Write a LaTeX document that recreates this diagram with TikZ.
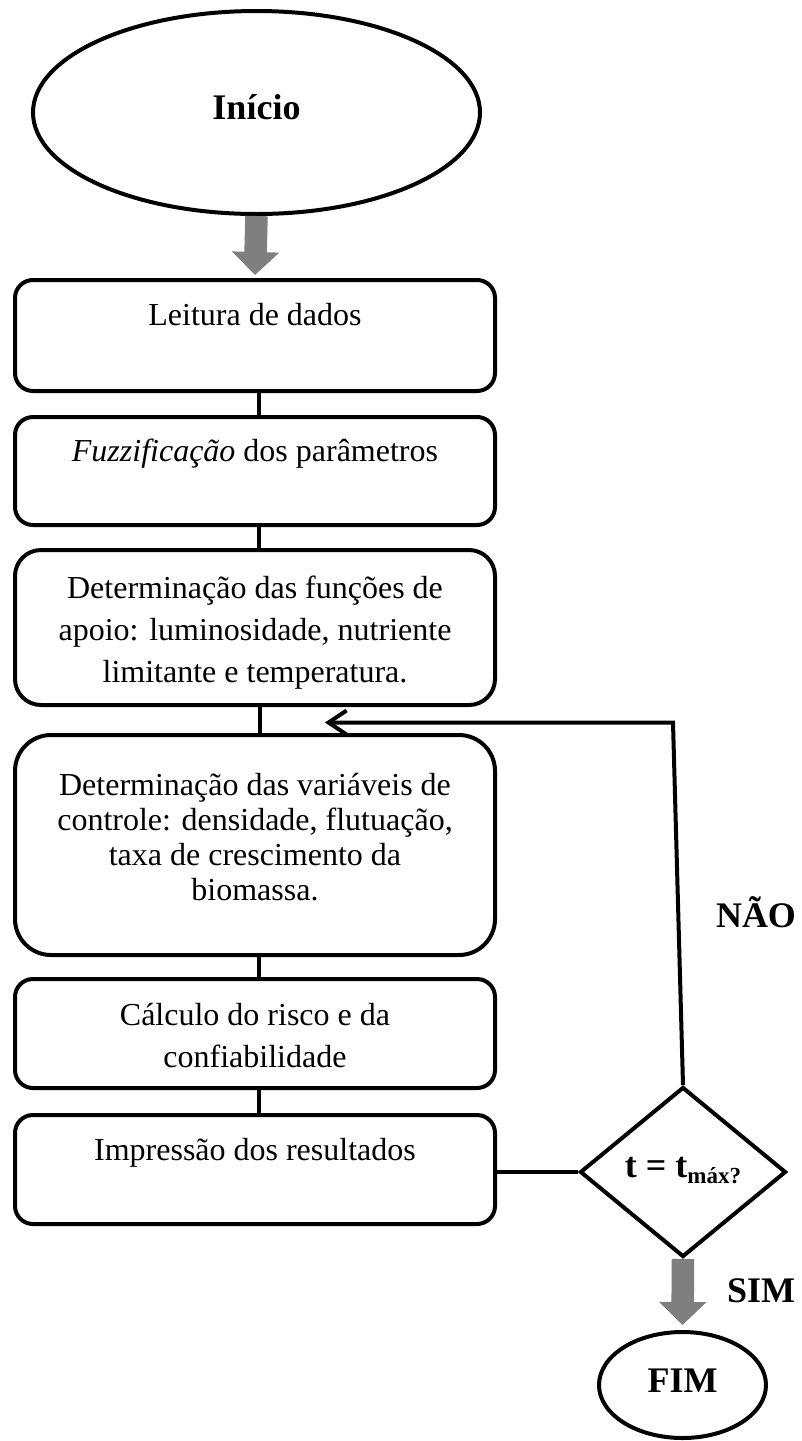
\documentclass[tikz,border=0pt]{standalone}
\usepackage{fontspec}
\setmainfont{Liberation Serif}
\usetikzlibrary{shapes.geometric,arrows.meta,calc}
\definecolor{arrowgray}{RGB}{127,127,127}
% #1 total height, #2 space above first line, #3 baselineskip, #4 text
\newcommand{\steptext}[4]{\parbox[c][#1][t]{470pt}{\centering\fontsize{32pt}{#3}\selectfont\vspace*{#2}\rule{0pt}{30pt}#4}}
\tikzset{
  stepbox/.style={draw, line width=4pt, rectangle, inner sep=0pt, minimum width=480pt},
  term/.style={draw, line width=4pt, ellipse, inner sep=0pt, font=\bfseries\fontsize{36pt}{40pt}\selectfont},
  decision/.style={draw, line width=4pt, diamond, inner sep=0pt, minimum width=206pt, minimum height=170pt},
  conn/.style={draw, line width=4pt},
  grayarrow/.style={draw=arrowgray, line width=22.5pt, -{Triangle[width=46pt,length=23pt]}},
  lbl/.style={inner sep=0pt, font=\bfseries\fontsize{36pt}{40pt}\selectfont},
}
\begin{document}
\begin{tikzpicture}[x=1pt, y=-1pt]
\useasboundingbox (0,0) rectangle (801,1441);
\fill[white] (0,0) rectangle (801,1441);

\node[term, minimum width=447pt, minimum height=203pt, text depth=12pt] (start) at (256.5,112.5) {Início};

\node[stepbox, rounded corners=18pt] (b1) at (255,335.5) {\steptext{111pt}{15pt}{40pt}{Leitura de dados}};
\node[stepbox, rounded corners=18pt] (b2) at (255,471) {\steptext{108pt}{14pt}{40pt}{\textit{Fuzzificação} dos parâmetros}};
\node[stepbox, rounded corners=26pt] (b3) at (255,627.5) {\steptext{155pt}{18pt}{42pt}{Determinação das funções de\\apoio: luminosidade, nutriente\\limitante e temperatura.}};
\node[stepbox, rounded corners=36pt] (b4) at (255,845) {\steptext{220pt}{30pt}{35pt}{Determinação das variáveis de\\controle: densidade, flutuação,\\taxa de crescimento da\\biomassa.}};
\node[stepbox, rounded corners=18pt] (b5) at (255,1033.5) {\steptext{109pt}{16pt}{42pt}{Cálculo do risco e da\\confiabilidade}};
\node[stepbox, rounded corners=18pt] (b6) at (255,1169.5) {\steptext{109pt}{15pt}{40pt}{Impressão dos resultados}};

\node[decision, font=\bfseries\fontsize{36pt}{40pt}\selectfont, text height=22pt, text depth=12pt] (d) at (683,1172) {t = t\raisebox{-6pt}{\fontsize{23pt}{25pt}\selectfont máx?}};

\node[term, minimum width=167pt, minimum height=106pt, text depth=8pt] (fim) at (682.5,1385) {FIM};

\node[lbl, anchor=base] (nao) at (756,927) {NÃO};
\node[lbl, anchor=base] (sim) at (761,1302) {SIM};

\coordinate (loopcorner) at (673,722.5);
\coordinate (loopend) at (325,722.5);

% gray arrows
\draw[grayarrow] (start.south) -- ([yshift=3pt]b1.north);
\draw[grayarrow] (d.south) -- ([yshift=5pt]fim.north);

% box connectors
\draw[conn] ([xshift=4pt]b1.south) -- ([xshift=4pt]b2.north);
\draw[conn] ([xshift=4pt]b2.south) -- ([xshift=4pt]b3.north);
\draw[conn] ([xshift=5pt]b3.south) -- ([xshift=5pt]b4.north);
\draw[conn] ([xshift=4pt]b4.south) -- ([xshift=4pt]b5.north);
\draw[conn] ([xshift=4pt]b5.south) -- ([xshift=4pt]b6.north);

% results to decision
\draw[conn] (d.west -| b6.east) -- (d.west);

% loop back
\draw[conn, -{Straight Barb[length=18pt,width=24pt]}] (d.north) -- (loopcorner) -- (loopend);
\end{tikzpicture}
\end{document}
